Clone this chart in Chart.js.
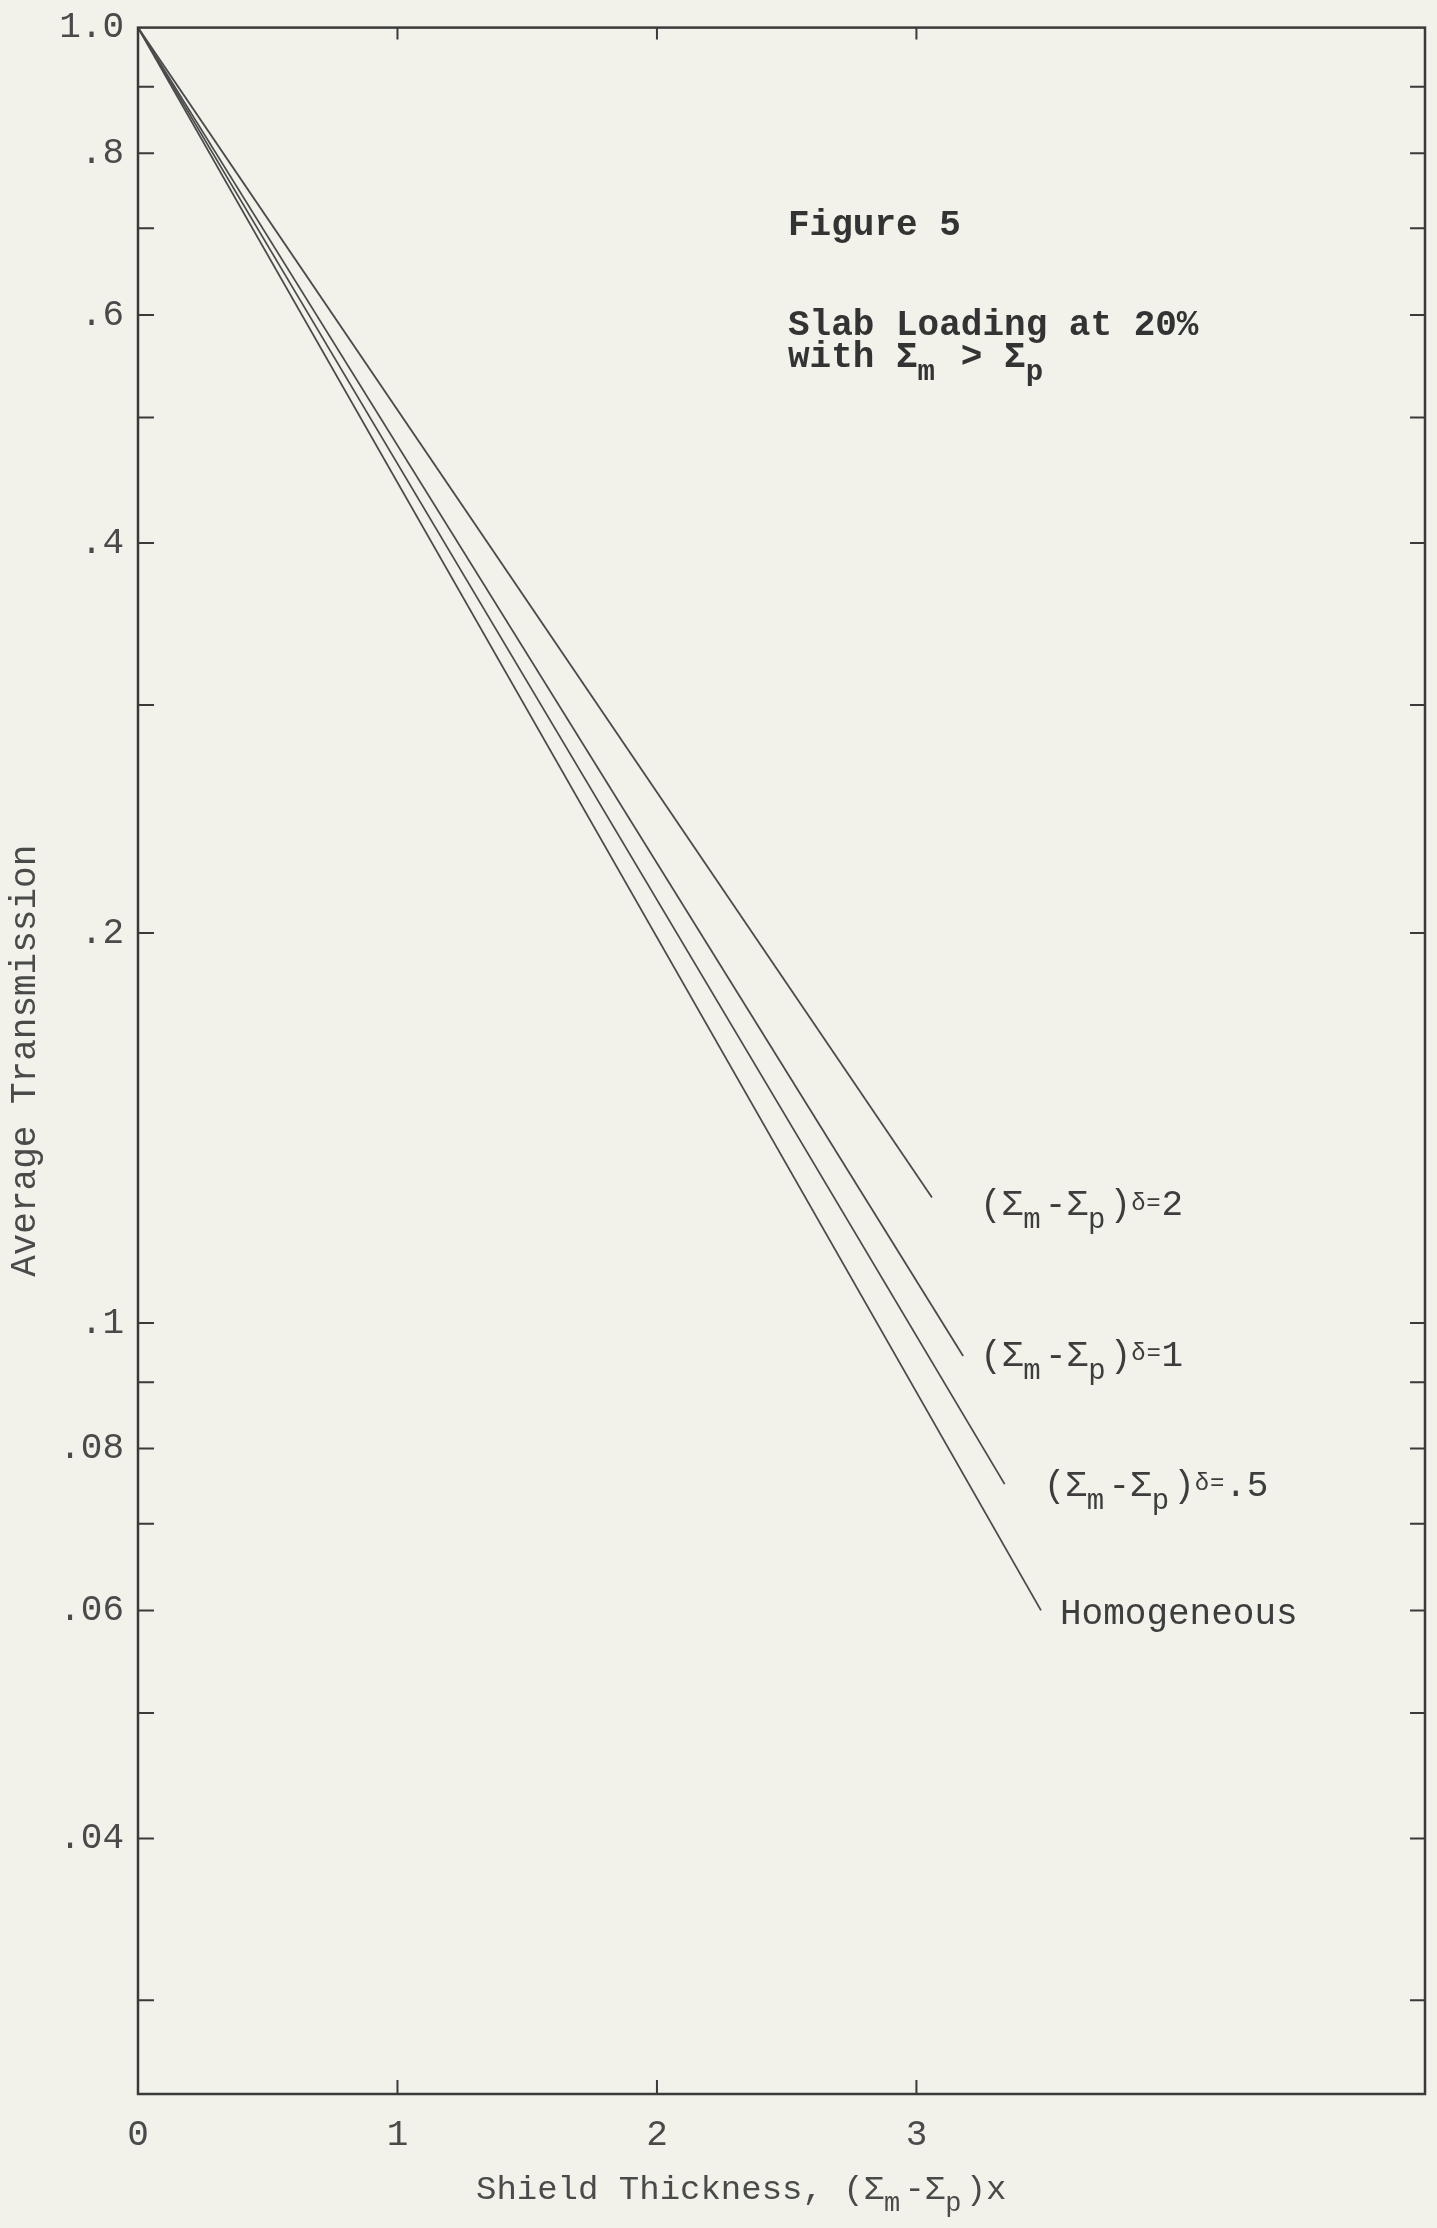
<!DOCTYPE html>
<html>
<head>
<meta charset="utf-8">
<title>Figure 5 - Slab Loading at 20%</title>
<script src="https://cdn.jsdelivr.net/npm/chart.js@4.4.1/dist/chart.umd.min.js"></script>
<style>
  html, body { margin: 0; padding: 0; background: #f2f2eb; }
  #wrap { width: 1437px; height: 2228px; position: relative; }
</style>
</head>
<body>
<div id="wrap"><canvas id="fig"></canvas></div>
<script>
// values (semi-log, straight lines from (0, 1.0))
const seriesNames = ['(Σm-Σp)δ=2', '(Σm-Σp)δ=1', '(Σm-Σp)δ=.5', 'Homogeneous'];
const thicknessD2 = [0, 3.06];
const transD2 = [1.0, 0.125];
const thicknessD1 = [0, 3.18];
const transD1 = [1.0, 0.0943];
const thicknessD05 = [0, 3.34];
const transD05 = [1.0, 0.0751];
const thicknessHom = [0, 3.48];
const transHom = [1.0, 0.060];

const xTickValues = [0, 1, 2, 3];
const yTickValues = [1.0, 0.9, 0.8, 0.7, 0.6, 0.5, 0.4, 0.3, 0.2, 0.1, 0.09, 0.08, 0.07, 0.06, 0.05, 0.04, 0.03];
const yTickLabels = ['1.0', '', '.8', '', '.6', '', '.4', '', '.2', '.1', '', '.08', '', '.06', '', '.04', ''];

const figureLines = ['Figure 5', 'Slab Loading at 20%', 'with Σm > Σp'];
const xTitle = 'Shield Thickness, (Σm-Σp)x';
const yTitle = 'Average Transmission';

const FONT = '"Liberation Mono", "DejaVu Sans Mono", monospace';
const INK = '#3d3d3d';

function pts(xs, ys) {
  return xs.map((x, i) => ({ x: x, y: ys[i] }));
}

// typewriter style text: Σ followed by m/p is dropped down, δ and = are small
function drawRich(ctx, text, x, y, size, color, weight) {
  let prev = '';
  const w = weight ? weight + ' ' : '';
  ctx.fillStyle = color || INK;
  ctx.textBaseline = 'middle';
  ctx.textAlign = 'left';
  ctx.font = w + size + 'px ' + FONT;
  const pitch = ctx.measureText('M').width;
  for (const ch of text) {
    let s = size, dy = 0, adv = pitch;
    if (prev === 'Σ' && (ch === 'm' || ch === 'p')) {
      s = Math.round(size * 0.8); dy = size * 0.42;
    } else if (ch === 'δ' || ch === '=') {
      s = Math.round(size * 0.68); dy = -size * 0.06; adv = pitch * 0.7;
    }
    ctx.font = w + s + 'px ' + FONT;
    ctx.fillText(ch, x, y + dy);
    x += adv;
    prev = ch;
  }
}

// pixel nudges of each curve label from the end of its line
const labelShift = [[48, 8], [17, 0], [39, 2], [19, 4]];

const paperPlugin = {
  id: 'paper',
  afterDraw(chart) {
    const ctx = chart.ctx;
    const a = chart.chartArea;
    const xs = chart.scales.x;
    const ys = chart.scales.y;
    ctx.save();
    ctx.strokeStyle = '#3a3a3a';
    ctx.lineWidth = 2.5;
    ctx.strokeRect(a.left, a.top, a.right - a.left, a.bottom - a.top);

    // inward tick marks on all four sides
    ctx.lineWidth = 2;
    ctx.beginPath();
    yTickValues.slice(1).forEach(v => {
      const py = ys.getPixelForValue(v);
      ctx.moveTo(a.left, py); ctx.lineTo(a.left + 16, py);
      ctx.moveTo(a.right, py); ctx.lineTo(a.right - 15, py);
    });
    xTickValues.slice(1).forEach(v => {
      const px = xs.getPixelForValue(v);
      ctx.moveTo(px, a.bottom); ctx.lineTo(px, a.bottom - 14);
      ctx.moveTo(px, a.top); ctx.lineTo(px, a.top + 12);
    });
    ctx.stroke();

    // curve labels at the line ends
    chart.data.datasets.forEach((ds, i) => {
      const end = ds.data[ds.data.length - 1];
      const px = xs.getPixelForValue(end.x) + labelShift[i][0];
      const py = ys.getPixelForValue(end.y) + labelShift[i][1];
      drawRich(ctx, ds.label, px, py, 36);
    });

    // figure caption block
    drawRich(ctx, figureLines[0], 788, 226, 36, '#333333', 'bold');
    drawRich(ctx, figureLines[1], 788, 326, 36, '#333333', 'bold');
    drawRich(ctx, figureLines[2], 788, 358, 36, '#333333', 'bold');

    // x axis title
    drawRich(ctx, xTitle, 476, 2190, 34, '#4a4a4a');
    ctx.restore();
  }
};

const lineStyle = { borderColor: '#4b4b4b', borderWidth: 1.8, pointRadius: 0, tension: 0, fill: false };

new Chart(document.getElementById('fig'), {
  type: 'line',
  data: {
    datasets: [
      Object.assign({ label: seriesNames[0], data: pts(thicknessD2, transD2) }, lineStyle),
      Object.assign({ label: seriesNames[1], data: pts(thicknessD1, transD1) }, lineStyle),
      Object.assign({ label: seriesNames[2], data: pts(thicknessD05, transD05) }, lineStyle),
      Object.assign({ label: seriesNames[3], data: pts(thicknessHom, transHom) }, lineStyle)
    ]
  },
  options: {
    responsive: true,
    maintainAspectRatio: false,
    animation: false,
    layout: { padding: { top: 25, right: 12, left: 0, bottom: 0 } },
    plugins: {
      legend: { display: false },
      tooltip: { enabled: false }
    },
    scales: {
      x: {
        type: 'linear',
        min: 0,
        max: 4.96,
        grid: { display: false },
        border: { display: false },
        afterFit: s => { s.height = 2228 - 2094; },
        afterBuildTicks: s => { s.ticks = xTickValues.map(v => ({ value: v })); },
        ticks: {
          autoSkip: false,
          maxRotation: 0,
          padding: 12,
          color: '#4a4a4a',
          font: { family: FONT, size: 36 },
          callback: v => String(v)
        }
      },
      y: {
        type: 'logarithmic',
        min: 0.0254,
        max: 1.0,
        grid: { display: false },
        border: { display: false },
        afterFit: s => { s.width = 138; },
        afterBuildTicks: s => { s.ticks = yTickValues.map(v => ({ value: v })); },
        title: {
          display: true,
          text: yTitle,
          color: '#4a4a4a',
          font: { family: FONT, size: 36 },
          padding: { top: 4, bottom: 4 }
        },
        ticks: {
          autoSkip: false,
          padding: 6,
          color: '#4a4a4a',
          font: { family: FONT, size: 36 },
          callback: (v, i) => yTickLabels[i]
        }
      }
    }
  },
  plugins: [paperPlugin]
});
</script>
</body>
</html>
